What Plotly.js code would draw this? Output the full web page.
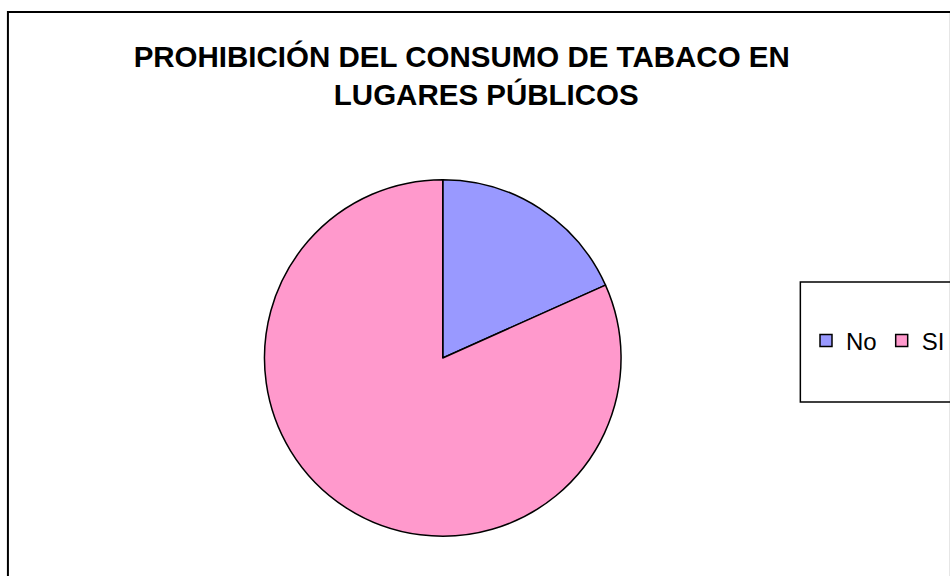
<!DOCTYPE html>
<html>
<head>
<meta charset="utf-8">
<script src="https://cdn.plot.ly/plotly-3.0.1.min.js"></script>
<style>html,body{margin:0;padding:0;background:#fff;}#chart{width:950px;height:576px;}</style>
</head>
<body>
<div id="chart"></div>
<script>
const categories = ["No", "SI"];
const values = [18.3, 81.7];
const sliceColors = ["#9999FF", "#FF99CC"];
const titleLine1 = "PROHIBICIÓN DEL CONSUMO DE TABACO EN";
const titleLine2 = "LUGARES PÚBLICOS";

const W = 950, H = 576;
const px = v => v / W;
const py = v => 1 - v / H;

const trace = {
  type: "pie",
  labels: categories,
  values: values,
  sort: false,
  direction: "clockwise",
  rotation: 0,
  textinfo: "none",
  hoverinfo: "label+percent",
  marker: { colors: sliceColors, line: { color: "#000000", width: 1.5 } },
  domain: { x: [px(267), px(627)], y: [py(538), py(178)] }
};

const nb = "\u00A0\u00A0\u00A0";
const layout = {
  width: W, height: H,
  margin: { l: 0, r: 0, t: 0, b: 0 },
  paper_bgcolor: "#ffffff",
  plot_bgcolor: "#ffffff",
  font: { family: "Liberation Sans, Arial, sans-serif", color: "#000000" },
  title: {
    text: titleLine1 + nb + "<br>" + nb + titleLine2,
    x: 474 / W, xanchor: "center", xref: "container",
    y: 1 - 67 / H, yanchor: "top", yref: "container",
    font: { family: "Liberation Sans, Arial, sans-serif", size: 29.5, color: "#000000", weight: "bold" }
  },
  showlegend: true,
  legend: {
    orientation: "h",
    x: px(814), xanchor: "left",
    y: py(341), yanchor: "middle",
    bgcolor: "rgba(0,0,0,0)",
    borderwidth: 0,
    font: { family: "Liberation Sans, Arial, sans-serif", size: 24, color: "#000000" },
    traceorder: "normal"
  },
  shapes: [
    { type: "rect", xref: "paper", yref: "paper", x0: px(8), x1: px(960), y0: py(590), y1: py(12),
      line: { color: "#000000", width: 2 }, fillcolor: "rgba(0,0,0,0)", layer: "above" },
    { type: "rect", xref: "paper", yref: "paper", x0: px(808), x1: px(960), y0: py(402), y1: py(282),
      line: { color: "#000000", width: 1.5 }, fillcolor: "rgba(0,0,0,0)", layer: "above" }
  ]
};

Plotly.newPlot("chart", [trace], layout, { displayModeBar: false, staticPlot: true });
</script>
</body>
</html>
